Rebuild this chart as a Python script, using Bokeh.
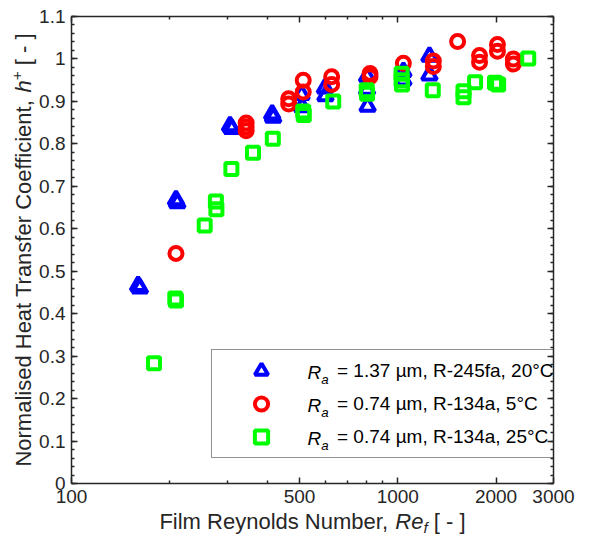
import math
from bokeh.plotting import figure
from bokeh.models import (FixedTicker, LogAxis, LinearAxis, Legend, LegendItem,
                          CustomJSTickFormatter, Range1d)
from bokeh.core.properties import value
from bokeh.embed import file_html
from bokeh.resources import INLINE

# ---------------- data ----------------
re_b = [160, 162, 209, 211, 306, 310, 412, 415, 507, 509, 598, 600, 805, 805, 808, 1040, 1040, 1250, 1250]
h_b = [0.466, 0.460, 0.668, 0.661, 0.842, 0.836, 0.870, 0.862, 0.916, 0.887, 0.931, 0.913, 0.958, 0.928,
       0.888, 0.970, 0.950, 1.006, 0.962]

re_r = [209, 343, 343, 343, 463, 463, 513, 513, 627, 627, 822, 822, 1040, 1285, 1285, 1525, 1780, 1780,
        2020, 2020, 2260, 2260]
h_r = [0.542, 0.849, 0.840, 0.831, 0.906, 0.894, 0.950, 0.922, 0.958, 0.940, 0.966, 0.958, 0.990, 0.995,
       0.982, 1.041, 1.008, 0.992, 1.034, 1.018, 1.000, 0.988]

re_g = [179, 208, 209, 256, 277, 278, 309, 360, 414, 513, 515, 634, 803, 805, 1027, 1027, 1030, 1280, 1590,
        1590, 1725, 1985, 2030, 2510]
h_g = [0.283, 0.436, 0.431, 0.608, 0.664, 0.646, 0.741, 0.779, 0.812, 0.876, 0.868, 0.900, 0.926, 0.918,
       0.965, 0.950, 0.940, 0.926, 0.924, 0.910, 0.945, 0.944, 0.940, 1.001]

legend_texts = ["= 1.37 µm, R-245fa, 20°C", "= 0.74 µm, R-134a, 5°C", "= 0.74 µm, R-134a, 25°C"]

x_major = [100, 500, 1000, 2000, 3000]
x_minor = [200, 300, 400, 600, 700, 800, 900]
y_major = [0, 0.1, 0.2, 0.3, 0.4, 0.5, 0.6, 0.7, 0.8, 0.9, 1, 1.1]
y_minor = [round(i * 0.02, 2) for i in range(56)]

X0, X1, Y0, Y1 = 100, 3000, 0, 1.1

# ---------------- styling ----------------
FONT = "Liberation Sans"
TXT = "#262626"
TICK_FS = 19
LAB_FS = 22
LEG_FS = 19

AW = {' ': 278, '+': 584, ',': 278, '-': 333, '.': 278, '=': 584, '[': 278, ']': 278, '°': 400, 'µ': 576,
      'C': 722, 'F': 611, 'H': 722, 'N': 722, 'R': 722, 'T': 611,
      'a': 556, 'c': 500, 'd': 556, 'e': 556, 'f': 278, 'h': 556, 'i': 222, 'l': 222, 'm': 833, 'n': 556,
      'o': 556, 'r': 333, 's': 500, 't': 278, 'u': 556, 'y': 500, 'b': 556}


def tw(s, fs):
    return sum(AW.get(c, 556) for c in s) * fs / 1000.0


W, H = 595, 540
FL, FR, FT, FB = 71, 553, 16, 483  # frame edges in canvas px
fw, fh = FR - FL, FB - FT


def dx(px):  # frame-relative px (from left) -> data x (log)
    return 10 ** (math.log10(X0) + px / fw * math.log10(X1 / X0))


def dy(py):  # frame-relative px (from bottom) -> data y
    return Y0 + py / fh * (Y1 - Y0)


p = figure(width=W, height=H, x_axis_type="log", x_range=Range1d(X0, X1), y_range=Range1d(Y0, Y1),
           output_backend="svg", toolbar_location=None,
           min_border_left=FL, min_border_right=W - FR, min_border_top=FT, min_border_bottom=H - FB)
p.grid.visible = False
p.outline_line_color = None
p.background_fill_color = "white"
p.border_fill_color = "white"

xt = FixedTicker(ticks=x_major, minor_ticks=x_minor)
yt = FixedTicker(ticks=y_major, minor_ticks=y_minor)


def style_axis(ax, labels=True):
    ax.axis_line_color = TXT
    ax.axis_line_width = 1.5
    ax.major_tick_line_color = TXT
    ax.minor_tick_line_color = TXT
    ax.major_tick_line_width = 1.5
    ax.minor_tick_line_width = 1.5
    ax.major_tick_in = 6
    ax.major_tick_out = 0
    ax.minor_tick_in = 3
    ax.minor_tick_out = 0
    ax.major_label_text_font = FONT
    ax.major_label_text_font_size = f"{TICK_FS}px"
    ax.major_label_text_color = TXT
    ax.major_label_standoff = 6
    ax.axis_label = None
    if not labels:
        ax.major_label_text_color = None
        ax.major_label_text_font_size = "1px"
        ax.major_label_standoff = 0


xa = p.xaxis[0]
xa.ticker = xt
xa.formatter = CustomJSTickFormatter(code="return tick.toFixed(0);")
style_axis(xa)
ya = p.yaxis[0]
ya.ticker = yt
ya.formatter = CustomJSTickFormatter(code="return String(Math.round(tick*10)/10);")
style_axis(ya)

top = LogAxis(ticker=xt)
style_axis(top, labels=False)
p.add_layout(top, "above")
right = LinearAxis(ticker=yt)
style_axis(right, labels=False)
p.add_layout(right, "right")

rb = p.scatter(re_b, h_b, marker="triangle", size=15, fill_color=None, line_color="#0000FF", line_width=4)
rr = p.scatter(re_r, h_r, marker="circle", size=13, fill_color=None, line_color="#FF0000", line_width=4)
rg = p.scatter(re_g, h_g, marker="square", size=12, fill_color=None, line_color="#00FF00", line_width=4)

# ---------------- legend ----------------
LX, LY, PAD, GW, ROW, STAND = 140, 25, 4, 90, 33, 31
LBOX_W = 352
legend = Legend(items=[LegendItem(label=legend_texts[0], renderers=[rb]),
                       LegendItem(label=legend_texts[1], renderers=[rr]),
                       LegendItem(label=legend_texts[2], renderers=[rg])],
                location=(LX, LY), padding=PAD, spacing=0, margin=0,
                glyph_width=GW, glyph_height=ROW, label_height=ROW, label_standoff=STAND,
                label_width=LBOX_W - 2 * PAD - GW - STAND,
                label_text_font=FONT, label_text_font_size=f"{LEG_FS}px", label_text_color="black",
                border_line_color=TXT, border_line_width=1.5, background_fill_alpha=0.0)
p.add_layout(legend)


def add_text(fx, fy, text, fs, style="normal", angle=0.0, color=TXT):
    r = p.text(x=[dx(fx)], y=[dy(fy)], text=[text], angle=angle,
               text_font=value(FONT), text_font_style=value(style),
               text_font_size=value(f"{fs:.1f}px"), text_baseline=value("middle"),
               text_align=value("left"), text_color=color)
    r.level = "overlay"
    return r


for i in range(3):
    yc = LY + PAD + ROW * (2 - i) + ROW / 2
    xr = LX + PAD + GW + 2
    add_text(xr, yc, "R", LEG_FS, "italic", color="black")
    add_text(xr + tw("R", LEG_FS), yc - 7, "a", LEG_FS * 0.7, "italic", color="black")

# ---------------- axis titles ----------------
SUB = LAB_FS * 0.7
parts_x = [("Film Reynolds Number, ", "normal", LAB_FS, 0), ("Re", "italic", LAB_FS, 0),
           ("f", "italic", SUB, -6), (" [ - ]", "normal", LAB_FS, 0)]
total = sum(tw(s, fs) for s, _, fs, _ in parts_x)
cx = fw / 2 - total / 2
for s, st, fs, off in parts_x:
    lead = len(s) - len(s.lstrip(" "))
    add_text(cx + tw(" " * lead, fs), -38 + off, s.strip(" "), fs, st)
    cx += tw(s, fs)

parts_y = [("Normalised Heat Transfer Coefficient, ", "normal", LAB_FS, 0), ("h", "italic", LAB_FS, 0),
           ("+", "normal", SUB, -7), (" [ - ]", "normal", LAB_FS, 0)]
total = sum(tw(s, fs) for s, _, fs, _ in parts_y)
cy = fh / 2 - total / 2
for s, st, fs, off in parts_y:
    lead = len(s) - len(s.lstrip(" "))
    add_text(-48 + off, cy + tw(" " * lead, fs), s.strip(" "), fs, st, angle=math.pi / 2)
    cy += tw(s, fs)

open("out.html", "w").write(file_html(p, INLINE))
